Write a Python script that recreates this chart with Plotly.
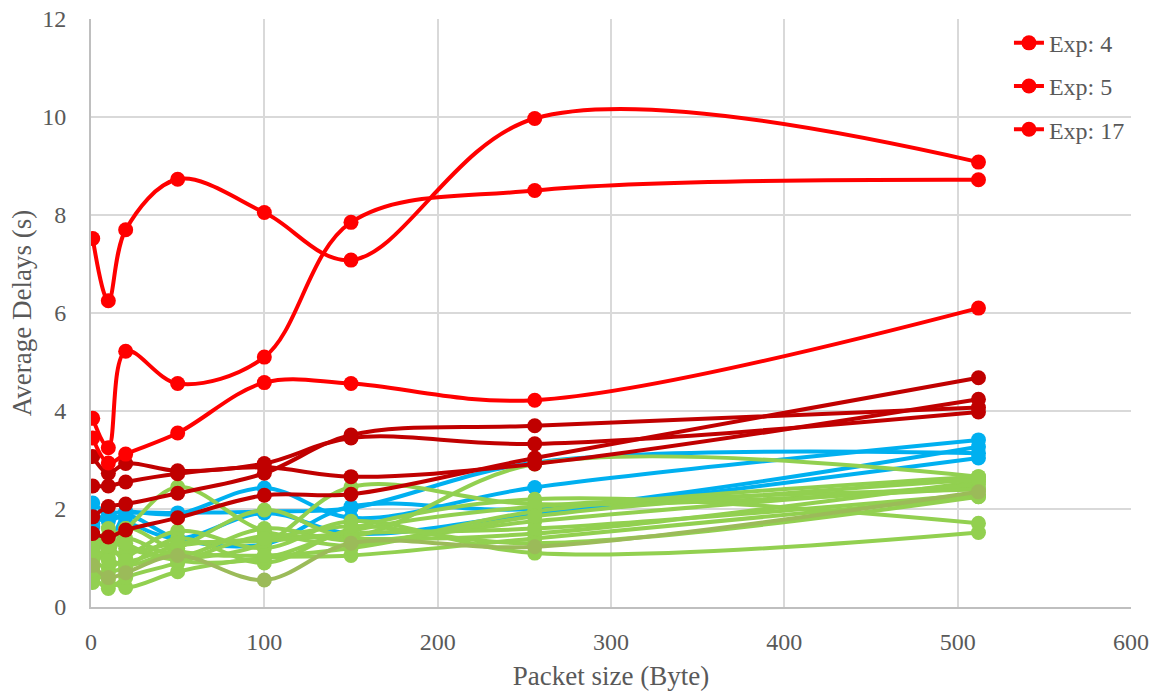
import plotly.graph_objects as go

# Packet sizes (Byte)
packet_sizes = [1, 10, 20, 50, 100, 150, 256, 512]

# Named experiments (bright red, shown in legend)
exp_4 = [7.52, 6.25, 7.70, 8.73, 8.05, 7.08, 9.97, 9.08]
exp_5 = [3.85, 3.25, 5.22, 4.56, 5.10, 7.85, 8.50, 8.72]
exp_17 = [3.45, 2.94, 3.12, 3.55, 4.58, 4.56, 4.22, 6.10]

# Dark red experiments
dark_red_runs = [
    [3.07, 2.73, 2.93, 2.78, 2.93, 3.45, 3.33, 3.98],
    [2.47, 2.47, 2.55, 2.72, 2.85, 2.66, 2.92, 4.24],
    [1.84, 2.05, 2.10, 2.32, 2.73, 3.51, 3.70, 4.07],
    [1.50, 1.43, 1.57, 1.82, 2.28, 2.30, 3.04, 4.68],
]

# Blue experiments
blue_runs = [
    [2.12, 1.92, 1.95, 1.90, 2.43, 1.82, 2.44, 3.41],
    [1.64, 1.27, 1.85, 1.39, 1.28, 2.05, 2.00, 3.27],
    [1.85, 1.75, 1.90, 1.92, 1.95, 2.02, 2.95, 3.14],
    [1.70, 1.90, 1.75, 1.40, 1.92, 1.50, 1.90, 3.04],
]

# Green experiments
green_runs = [
    [1.30, 1.45, 1.60, 2.45, 1.55, 1.40, 1.50, 2.56],
    [1.20, 1.00, 0.85, 1.20, 1.98, 1.45, 2.92, 2.66],
    [1.10, 1.35, 1.20, 1.00, 1.30, 2.45, 2.10, 2.43],
    [0.95, 0.80, 1.00, 1.55, 1.20, 1.75, 1.10, 1.52],
    [0.80, 0.55, 0.40, 0.72, 1.00, 1.05, 1.40, 2.25],
    [0.65, 0.38, 0.60, 0.90, 1.45, 1.25, 1.95, 2.66],
    [0.50, 0.70, 0.80, 1.40, 0.90, 1.60, 2.20, 1.71],
    [1.25, 1.20, 1.40, 1.05, 1.60, 1.35, 1.75, 2.50],
    [1.00, 1.10, 1.10, 1.30, 1.35, 1.50, 1.60, 2.30],
    [0.90, 1.60, 1.30, 0.95, 1.00, 1.55, 2.05, 2.40],
    [1.15, 0.95, 1.60, 1.15, 1.05, 1.20, 1.85, 2.60],
    [0.75, 1.25, 0.95, 1.25, 1.40, 1.65, 1.30, 2.25],
]

# Olive experiment
olive_run = [0.85, 0.60, 0.70, 1.05, 0.55, 1.30, 1.23, 2.35]

RED = "#FF0000"
DARK_RED = "#C00000"
BLUE = "#00B0F0"
GREEN = "#92D050"
OLIVE = "#9BBB59"
TEXT = "#595959"
FONT = "Liberation Serif"

fig = go.Figure()


def add_run(values, color, name=None, show=False, group=None):
    fig.add_trace(go.Scatter(
        x=packet_sizes, y=values, mode="lines+markers",
        line=dict(color=color, width=4, shape="spline", smoothing=1.0),
        marker=dict(color=color, size=15),
        name=name, showlegend=show, legendgroup=group,
    ))


for run in blue_runs:
    add_run(run, BLUE)
for run in green_runs:
    add_run(run, GREEN)
add_run(olive_run, OLIVE)
for run in dark_red_runs:
    add_run(run, DARK_RED)
add_run(exp_4, RED, "Exp: 4", True, "e4")
add_run(exp_5, RED, "Exp: 5", True, "e5")
add_run(exp_17, RED, "Exp: 17", True, "e17")

fig.update_layout(
    width=1158, height=691,
    margin=dict(l=91, r=27, t=19, b=84),
    paper_bgcolor="white", plot_bgcolor="white",
    font=dict(family=FONT, color=TEXT, size=24),
    legend=dict(
        x=0.999, y=0.997, xanchor="right", yanchor="top",
        font=dict(family=FONT, size=24, color=TEXT),
        bgcolor="rgba(0,0,0,0)", tracegroupgap=9,
        traceorder="grouped",
    ),
    xaxis=dict(
        range=[0, 600], dtick=100, tick0=0, automargin=False,
        showgrid=True, gridcolor="#D9D9D9", gridwidth=2,
        showline=True, linecolor="#BFBFBF", linewidth=2,
        zeroline=False, ticks="",
        ticklabelstandoff=12,
        tickfont=dict(family=FONT, size=24, color=TEXT),
        title=dict(text="Packet size (Byte)", standoff=12,
                   font=dict(family=FONT, size=27, color=TEXT)),
    ),
    yaxis=dict(
        range=[0, 12], dtick=2, tick0=0, automargin=False,
        showgrid=True, gridcolor="#D9D9D9", gridwidth=2,
        showline=True, linecolor="#BFBFBF", linewidth=2,
        zeroline=False, ticks="",
        ticklabelstandoff=18,
        tickfont=dict(family=FONT, size=24, color=TEXT),
        title=dict(text="Average Delays (s)", standoff=3,
                   font=dict(family=FONT, size=27, color=TEXT)),
    ),
)

fig.write_html("out.html")
